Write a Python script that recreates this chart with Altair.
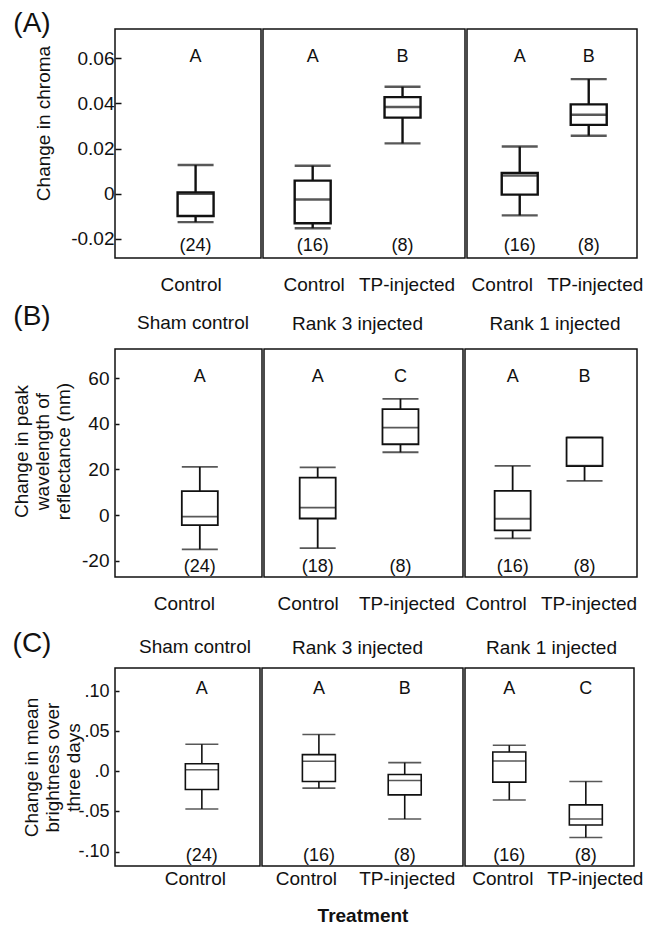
import altair as alt
import pandas as pd

FONT = "Liberation Sans"
INK = "#111111"

GROUPS = ["Sham control", "Rank 3 injected", "Rank 3 injected", "Rank 1 injected", "Rank 1 injected"]
TREATMENTS = ["Control", "Control", "TP-injected", "Control", "TP-injected"]
SUBTITLES = ["Sham control", "Rank 3 injected", "Rank 1 injected"]

# (A) change in chroma
CHROMA_LO = [-0.0126, -0.0153, 0.0223, -0.0096, 0.0257]
CHROMA_Q1 = [-0.0099, -0.0131, 0.0337, -0.0004, 0.0305]
CHROMA_MED = [0.0000, -0.0026, 0.0384, 0.0080, 0.0350]
CHROMA_Q3 = [0.0006, 0.0058, 0.0428, 0.0092, 0.0396]
CHROMA_HI = [0.0127, 0.0124, 0.0474, 0.0209, 0.0508]
CHROMA_LETTERS = ["A", "A", "B", "A", "B"]
CHROMA_N = [24, 16, 8, 16, 8]

# (B) change in peak wavelength of reflectance (nm)
PEAK_LO = [-15.0, -14.5, 27.5, -10.2, 15.0]
PEAK_Q1 = [-4.4, -1.5, 31.0, -6.7, 21.4]
PEAK_MED = [-0.7, 3.3, 38.3, -1.6, 21.6]
PEAK_Q3 = [10.5, 16.4, 46.4, 10.6, 33.9]
PEAK_HI = [21.1, 20.9, 50.9, 21.5, 34.0]
PEAK_LETTERS = ["A", "A", "C", "A", "B"]
PEAK_N = [24, 18, 8, 16, 8]

# (C) change in mean brightness over three days
BRIGHT_LO = [-0.0469, -0.0209, -0.0594, -0.0356, -0.0824]
BRIGHT_Q1 = [-0.0226, -0.0126, -0.0293, -0.0134, -0.0669]
BRIGHT_MED = [0.0021, 0.0126, -0.0113, 0.0130, -0.0594]
BRIGHT_Q3 = [0.0096, 0.0209, -0.0038, 0.0243, -0.0418]
BRIGHT_HI = [0.0339, 0.0460, 0.0109, 0.0326, -0.0126]
BRIGHT_LETTERS = ["A", "A", "B", "A", "C"]
BRIGHT_N = [24, 16, 8, 16, 8]

A_TICKS = [-0.02, 0, 0.02, 0.04, 0.06]
B_TICKS = [-20, 0, 20, 40, 60]
C_TICKS = [-0.10, -0.05, 0, 0.05, 0.10]


def frame(lo, q1, med, q3, hi, letters, ns):
    return pd.DataFrame({
        "group": GROUPS, "treatment": TREATMENTS,
        "lo": lo, "q1": q1, "med": med, "q3": q3, "hi": hi,
        "letter": letters, "nlab": ["(%d)" % n for n in ns],
    })


ROWS = [
    dict(df=frame(CHROMA_LO, CHROMA_Q1, CHROMA_MED, CHROMA_Q3, CHROMA_HI, CHROMA_LETTERS, CHROMA_N),
         tag="(A)", tag_y=-5, domain=[-0.0285, 0.073], ticks=A_TICKS,
         label_expr="(datum.value < 0 ? '-' : '') + (datum.value == 0 ? '0' : format(abs(datum.value), '.2f'))",
         ytitle="Change in  chroma", title_y=94, title_pad=17, yoff=-6, ytick=6, ylabpad=1, ylabsize=19,
         widths=[146, 202, 170], height=229, box=36, sw=2.4, lpad=17,
         xscale=[(0.5, 0.552), (0.624, 0.443), (0.732, 0.522)],
         loff=[-5, (1, 4), (-18, 6)],
         letter_y=0.0605, count_y=-0.0232, subtitles=False, xtitle=None),
    dict(df=frame(PEAK_LO, PEAK_Q1, PEAK_MED, PEAK_Q3, PEAK_HI, PEAK_LETTERS, PEAK_N),
         tag="(B)", tag_y=-32, domain=[-27.1, 72.7], ticks=B_TICKS,
         label_expr="(datum.value < 0 ? '-' : '') + format(abs(datum.value), 'd')",
         ytitle=["Change in  peak", "wavelength of", "reflectance (nm)"], title_y=102, title_pad=8,
         yoff=-4, ytick=4, ylabpad=6, ylabsize=19,
         widths=[147, 199, 172], height=228, box=36, sw=1.8, lpad=17,
         xscale=[(0.5, 0.577), (0.702, 0.462), (0.696, 0.476)],
         loff=[-16, (-10, 6), (-17, 4)],
         letter_y=60.3, count_y=-22.7, subtitles=True, sub_off=15, sub_y=-26, sub_x=78,
         sub_dx=[0, -6, 4], xtitle=(" ", 6, 2, "normal")),
    dict(df=frame(BRIGHT_LO, BRIGHT_Q1, BRIGHT_MED, BRIGHT_Q3, BRIGHT_HI, BRIGHT_LETTERS, BRIGHT_N),
         tag="(C)", tag_y=-24, domain=[-0.118, 0.129], ticks=C_TICKS,
         label_expr="(datum.value < 0 ? '-' : '') + (datum.value == 0 ? '.0' : replace(format(abs(datum.value), '.2f'), '0.', '.'))",
         ytitle=["Change in  mean", "brightness over", "three  days"], title_y=99, title_pad=-6,
         yoff=-4, ytick=4, ylabpad=6, ylabsize=18,
         widths=[145, 201, 169], height=198, box=33, sw=1.6, lpad=3,
         xscale=[(0.5, 0.599), (0.671, 0.494), (0.604, 0.479)],
         loff=[-7, (-13, 2), (-7, 9)],
         letter_y=0.103, count_y=-0.106, subtitles=True, sub_off=10, sub_y=-21, sub_x=80,
         sub_dx=[0, -5, 2], xtitle=("Treatment", 19, 18, "bold")),
]


def label_offset(spec):
    if isinstance(spec, tuple):
        return {"condition": {"test": "datum.value === 'Control'", "value": spec[0]}, "value": spec[1]}
    return spec


def make_row(cfg):
    panels = []
    yscale = alt.Scale(domain=cfg["domain"], nice=False, zero=False)
    for j, g in enumerate(SUBTITLES):
        sub = cfg["df"][cfg["df"]["group"] == g]
        xargs = dict(labelAngle=0, labelFontSize=19, labelColor=INK, labelPadding=cfg["lpad"],
                     labelOffset=label_offset(cfg["loff"][j]),
                     ticks=False, tickSize=0, domain=False)
        if cfg["xtitle"] is not None and j == 1:
            t, fs, pad, fw = cfg["xtitle"]
            xaxis = alt.Axis(title=t, titleFontSize=fs, titlePadding=pad, titleFontWeight=fw,
                             titleColor=INK, **xargs)
        else:
            xaxis = alt.Axis(title=None, **xargs)
        pad, align = cfg["xscale"][j]
        x = alt.X("treatment:N", sort=None, axis=xaxis,
                  scale=alt.Scale(type="point", padding=pad, align=align))
        base = alt.Chart(sub).encode(x=x)
        if j == 0:
            yaxis = alt.Axis(values=cfg["ticks"], labelExpr=cfg["label_expr"], grid=False, domain=False,
                             offset=cfg["yoff"], tickSize=cfg["ytick"], tickWidth=1.5, tickColor=INK,
                             labelPadding=cfg["ylabpad"], labelFontSize=cfg["ylabsize"], labelColor=INK,
                             title=cfg["ytitle"], titleFontSize=19, titleFontWeight="normal",
                             titleColor=INK, titlePadding=cfg["title_pad"], titleY=cfg["title_y"],
                             titleLineHeight=21)
        else:
            yaxis = None

        def Y(field):
            return alt.Y(field, scale=yscale, axis=yaxis)

        def YD(value):
            return alt.YDatum(value, scale=yscale, axis=yaxis)

        sw, bw = cfg["sw"], cfg["box"]
        whisker = base.mark_rule(color=INK, strokeWidth=sw).encode(y=Y("lo:Q"), y2="hi:Q")
        cap_lo = base.mark_tick(color=INK, size=bw, thickness=sw).encode(y=Y("lo:Q"))
        cap_hi = base.mark_tick(color=INK, size=bw, thickness=sw).encode(y=Y("hi:Q"))
        box = base.mark_bar(size=bw, fill="white", stroke=INK, strokeWidth=sw).encode(
            y=Y("q1:Q"), y2="q3:Q")
        median = base.mark_tick(color=INK, size=bw, thickness=sw).encode(y=Y("med:Q"))
        letters = base.mark_text(fontSize=18, color=INK, baseline="middle").encode(
            y=YD(cfg["letter_y"]), text="letter:N")
        counts = base.mark_text(fontSize=18, color=INK, baseline="middle").encode(
            y=YD(cfg["count_y"]), text="nlab:N")
        layers = [whisker, cap_lo, cap_hi, box, median, letters, counts]
        if j == 0:
            tag = alt.Chart(pd.DataFrame({"tag": [cfg["tag"]]})).mark_text(
                fontSize=28, color=INK, align="center", baseline="middle").encode(
                x=alt.value(-83), y=alt.value(cfg["tag_y"]), text="tag:N")
            layers.append(tag)
            if cfg["subtitles"]:
                subtitle = alt.Chart(pd.DataFrame({"s": [SUBTITLES[0]]})).mark_text(
                    fontSize=19, color=INK, align="center", baseline="middle").encode(
                    x=alt.value(cfg["sub_x"]), y=alt.value(cfg["sub_y"]), text="s:N")
                layers.append(subtitle)
        layer = alt.layer(*layers).properties(width=cfg["widths"][j], height=cfg["height"])
        if cfg["subtitles"] and j > 0:
            layer = layer.properties(title=alt.TitleParams(
                SUBTITLES[j], fontSize=19, fontWeight="normal", color=INK,
                offset=cfg["sub_off"], dx=cfg["sub_dx"][j]))
        panels.append(layer)
    return alt.hconcat(*panels, spacing=0)


chart = alt.vconcat(*[make_row(c) for c in ROWS], spacing=7).properties(
    padding={"left": 3, "top": 1, "right": 0, "bottom": 0}
).configure(font=FONT).configure_view(stroke=INK, strokeWidth=1.5)

chart.save("out.html", embed_options={"renderer": "svg", "actions": False})
